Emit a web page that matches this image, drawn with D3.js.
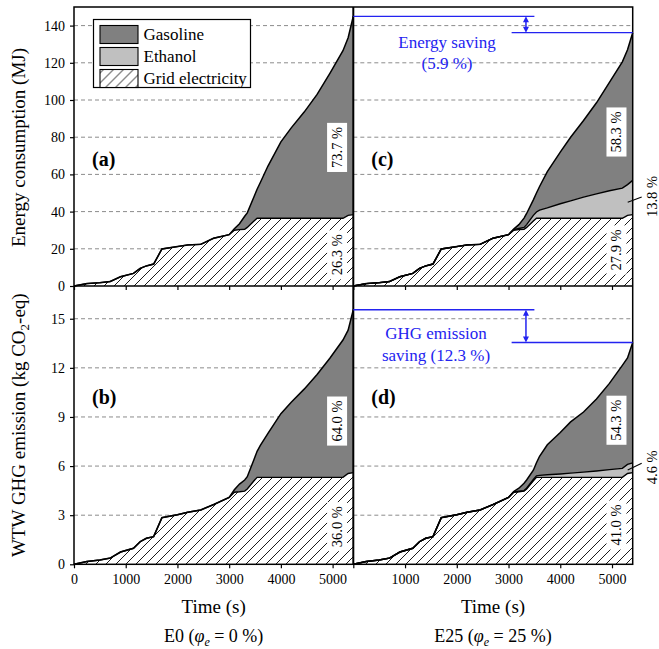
<!DOCTYPE html>
<html><head><meta charset="utf-8">
<script src="https://cdn.jsdelivr.net/npm/d3@7"></script>
<style>body{margin:0;background:#fff}svg{display:block}</style>
</head><body><svg id="c" width="659" height="649" font-family="Liberation Serif"></svg>
<script>
// ---- data ----
const time = [0,250,500,700,900,1150,1280,1400,1540,1700,2000,2200,2450,2700,3000,3100,3200,3300,3350,3480,3540,3600,3750,4000,4200,4450,4700,4950,5200,5300,5400];
// Energy (MJ), cumulative tops
const elecMJ      = [0,1.3,1.8,2.4,5.0,6.8,9.5,10.8,11.8,19.9,21.2,22.1,22.4,25.7,27.6,30.0,30.3,30.5,31.5,35.0,36.4,36.4,36.4,36.4,36.4,36.4,36.4,36.4,36.4,38.0,38.4];
const totalMJ_E0  = [0,1.3,1.8,2.4,5.0,6.8,9.5,10.8,11.8,19.9,21.2,22.1,22.4,25.7,27.6,30.8,33.5,37.5,39.3,48.0,52.0,55.5,64.5,77.5,85.0,93.5,103.0,114.5,126.5,133.5,145.0];
const ethTopMJ_E25= [0,1.3,1.8,2.4,5.0,6.8,9.5,10.8,11.8,19.9,21.2,22.1,22.4,25.7,27.6,30.3,30.9,31.5,33.0,38.0,39.8,40.8,42.0,44.2,45.8,47.8,49.5,51.2,52.6,54.5,56.8];
const totalMJ_E25 = [0,1.3,1.8,2.4,5.0,6.8,9.5,10.8,11.8,19.9,21.2,22.1,22.4,25.7,27.6,30.6,33.0,36.5,39.0,46.3,50.0,53.5,61.5,72.0,80.0,89.0,98.5,109.5,120.5,127.0,136.2];
// WTW GHG emission (kg CO2-eq), cumulative tops
const elecKg      = [0,0.17,0.26,0.38,0.75,0.98,1.38,1.59,1.69,2.85,3.03,3.18,3.32,3.65,4.08,4.40,4.43,4.47,4.60,5.10,5.31,5.31,5.31,5.31,5.31,5.31,5.31,5.31,5.31,5.55,5.60];
const totalKg_E0  = [0,0.17,0.26,0.38,0.75,0.98,1.38,1.59,1.69,2.85,3.03,3.18,3.32,3.65,4.08,4.55,4.90,5.15,5.35,6.40,6.90,7.25,8.00,9.20,9.90,10.70,11.60,12.60,13.70,14.30,15.55];
const ethTopKg_E25= [0,0.17,0.26,0.38,0.75,0.98,1.38,1.59,1.69,2.85,3.03,3.18,3.32,3.65,4.08,4.42,4.46,4.50,4.65,5.18,5.40,5.43,5.47,5.52,5.57,5.63,5.70,5.78,5.86,6.10,6.20];
const totalKg_E25 = [0,0.17,0.26,0.38,0.75,0.98,1.38,1.59,1.69,2.85,3.03,3.18,3.32,3.65,4.08,4.45,4.65,4.95,5.15,5.75,6.20,6.60,7.30,8.05,8.70,9.30,10.10,11.05,12.15,12.60,13.55];

const energyTicks = [0,20,40,60,80,100,120,140];
const ghgTicks = [0,3,6,9,12,15];
const timeTicks = [0,1000,2000,3000,4000,5000];
const legendLabels = ["Gasoline","Ethanol","Grid electricity"];
const pctE0 = {energy:["73.7 %","26.3 %"], ghg:["64.0 %","36.0 %"]};
const pctE25 = {energy:["58.3 %","13.8 %","27.9 %"], ghg:["54.3 %","4.6 %","41.0 %"]};
const savingEnergy = ["Energy saving","(5.9 %)"];
const savingGhg = ["GHG emission","saving (12.3 %)"];

// ---- layout ----
const FONT = '"Liberation Serif","Times New Roman",serif';
const svg = d3.select("#c");
const L=74, M=353.3, R=632.7, T=7, H=286, B=564.3;
const xL = d3.scaleLinear().domain([0,5400]).range([L,M]);
const xR = d3.scaleLinear().domain([0,5400]).range([M,R]);
const yE = d3.scaleLinear().domain([0,150]).range([H,T]);
const yG = d3.scaleLinear().domain([0,17]).range([B,H]);
const GAS="#808080", ETH="#c0c0c0", BLUE="#2323f0";

const defs = svg.append("defs");
const pat = defs.append("pattern").attr("id","hatch").attr("patternUnits","userSpaceOnUse")
  .attr("width",10).attr("height",10);
pat.append("rect").attr("width",10).attr("height",10).attr("fill","#fff");
pat.append("path").attr("d","M-1,11 L11,-1 M-3,3 L3,-3 M7,13 L13,7").attr("stroke","#000").attr("stroke-width",0.9);

const panels = [
  {x:xL, y:yE, elec:elecMJ, eth:elecMJ, tot:totalMJ_E0, ticks:energyTicks, lab:"(a)", labV:64.5, e25:false, xlabels:false, ylabels:true},
  {x:xR, y:yE, elec:elecMJ, eth:ethTopMJ_E25, tot:totalMJ_E25, ticks:energyTicks, lab:"(c)", labV:64.5, e25:true, xlabels:false, ylabels:false},
  {x:xL, y:yG, elec:elecKg, eth:elecKg, tot:totalKg_E0, ticks:ghgTicks, lab:"(b)", labV:9.8, e25:false, xlabels:true, ylabels:true},
  {x:xR, y:yG, elec:elecKg, eth:ethTopKg_E25, tot:totalKg_E25, ticks:ghgTicks, lab:"(d)", labV:9.8, e25:true, xlabels:true, ylabels:false},
];

panels.forEach(p=>{
  const g = svg.append("g");
  const [x0,x1] = p.x.range();
  g.selectAll(".grid").data(p.ticks.filter(d=>d>0)).enter().append("line")
    .attr("x1",x0).attr("x2",x1).attr("y1",d=>p.y(d)).attr("y2",d=>p.y(d))
    .attr("stroke","#8c8c8c").attr("stroke-width",1).attr("stroke-dasharray","4,3");
  const idx = d3.range(time.length);
  const area = (lo,hi)=>d3.area().x(i=>p.x(time[i])).y0(i=>p.y(lo[i])).y1(i=>p.y(hi[i]));
  const line = (arr)=>d3.line().x(i=>p.x(time[i])).y(i=>p.y(arr[i]));
  g.append("path").attr("d",area(p.eth,p.tot)(idx)).attr("fill",GAS);
  if(p.e25) g.append("path").attr("d",area(p.elec,p.eth)(idx)).attr("fill",ETH);
  g.append("path").attr("d",area(time.map(()=>0),p.elec)(idx)).attr("fill","url(#hatch)");
  g.append("path").attr("d",line(p.tot)(idx)).attr("fill","none").attr("stroke","#000").attr("stroke-width",1.5);
  if(p.e25) g.append("path").attr("d",line(p.eth)(idx)).attr("fill","none").attr("stroke","#000").attr("stroke-width",1.4);
  g.append("path").attr("d",line(p.elec)(idx)).attr("fill","none").attr("stroke","#000").attr("stroke-width",1.4);
  if(p.ylabels){
    const ax = d3.axisLeft(p.y).tickValues(p.ticks).tickSize(4).tickPadding(5);
    const ag = svg.append("g").attr("transform",`translate(${L},0)`).call(ax);
    ag.select(".domain").remove();
    ag.selectAll("line").attr("stroke-width",1.2);
    ag.selectAll("text").style("font-size","14px");
  }
  const yb = p.y.range()[0];
  const axx = d3.axisBottom(p.x).tickValues(timeTicks).tickSize(4).tickPadding(6)
      .tickFormat(d=> (p.xlabels && !(p.e25 && d===0)) ? d : "");
  const xg = svg.append("g").attr("transform",`translate(0,${yb})`).call(axx);
  xg.select(".domain").remove();
  xg.selectAll("line").attr("stroke-width",1.2);
  xg.selectAll("text").style("font-size","14px");
  svg.append("text").attr("x",x0+18).attr("y",p.y(p.labV))
    .style("font-size","20px").style("font-weight","bold").text(p.lab);
});

const fr = svg.append("g").attr("stroke","#000").attr("fill","none");
fr.append("rect").attr("x",L).attr("y",T).attr("width",R-L).attr("height",B-T).attr("stroke-width",1.5);
fr.append("line").attr("x1",L).attr("x2",R).attr("y1",H).attr("y2",H).attr("stroke-width",1.6);
fr.append("line").attr("x1",M).attr("x2",M).attr("y1",T).attr("y2",B).attr("stroke-width",2);

function boxLabel(x,y,txt){
  const g = svg.append("g").attr("transform",`translate(${x},${y}) rotate(-90)`);
  const t = g.append("text").attr("text-anchor","middle").attr("dy","0.35em").style("font-family",FONT).style("font-size","14.5px").text(txt);
  const bb = t.node().getBBox();
  g.insert("rect","text").attr("x",bb.x-4).attr("y",bb.y-2).attr("width",bb.width+8).attr("height",bb.height+4).attr("fill","#fff");
}
const tl = 5085;
boxLabel(xL(tl), yE(74.5), pctE0.energy[0]);
boxLabel(xL(tl), yE(16.8), pctE0.energy[1]);
boxLabel(xR(tl), yE(82.8), pctE25.energy[0]);
boxLabel(xR(tl), yE(19.4), pctE25.energy[2]);
boxLabel(xL(tl), yG(8.75), pctE0.ghg[0]);
boxLabel(xL(tl), yG(2.3), pctE0.ghg[1]);
boxLabel(xR(tl), yG(8.8), pctE25.ghg[0]);
boxLabel(xR(tl), yG(2.4), pctE25.ghg[2]);

function outLabel(yScale, vText, vFrom, vTo, txt){
  svg.append("line").attr("x1",R-5).attr("y1",yScale(vFrom)).attr("x2",R+9).attr("y2",yScale(vTo))
    .attr("stroke","#000").attr("stroke-width",1.1);
  svg.append("text").attr("transform",`translate(${R+19},${yScale(vText)}) rotate(-90)`)
    .attr("text-anchor","middle").attr("dy","0.35em").style("font-size","14.5px").text(txt);
}
outLabel(yE, 48.1, 45.0, 47.9, pctE25.energy[1]);
outLabel(yG, 5.93, 5.76, 6.17, pctE25.ghg[1]);

function saving(yScale, vTop, vBot, lines, cx, baseY){
  const ax = xR(3337);
  svg.append("line").attr("x1",M).attr("x2",xR(3500)).attr("y1",yScale(vTop)).attr("y2",yScale(vTop)).attr("stroke",BLUE).attr("stroke-width",1.3);
  svg.append("line").attr("x1",xR(3060)).attr("x2",R).attr("y1",yScale(vBot)).attr("y2",yScale(vBot)).attr("stroke",BLUE).attr("stroke-width",1.3);
  const y1 = yScale(vTop), y2 = yScale(vBot);
  svg.append("line").attr("x1",ax).attr("x2",ax).attr("y1",y1+3).attr("y2",y2-3).attr("stroke",BLUE).attr("stroke-width",1.5);
  svg.append("path").attr("d",`M${ax},${y1} L${ax-3},${y1+6} L${ax+3},${y1+6} Z M${ax},${y2} L${ax-3},${y2-6} L${ax+3},${y2-6} Z`).attr("fill",BLUE);
  lines.forEach((s,i)=>{
    svg.append("text").attr("x",cx).attr("y",baseY+i*21.5).attr("text-anchor","middle")
      .style("font-size","17px").style("fill",BLUE).text(s);
  });
}
saving(yE, totalMJ_E0[totalMJ_E0.length-1], totalMJ_E25[totalMJ_E25.length-1], savingEnergy, 447, 47.5);
saving(yG, totalKg_E0[totalKg_E0.length-1], totalKg_E25[totalKg_E25.length-1], savingGhg, 436, 339);

const lg = svg.append("g").attr("transform","translate(93.5,19.5)");
lg.append("rect").attr("width",157).attr("height",68).attr("fill","#fff").attr("stroke","#000").attr("stroke-width",1.2);
const fills = [GAS, ETH, "url(#hatch)"];
legendLabels.forEach((s,i)=>{
  lg.append("rect").attr("x",6.5).attr("y",6+i*22).attr("width",38).attr("height",18)
    .attr("fill",fills[i]).attr("stroke","#000").attr("stroke-width",1.1);
  lg.append("text").attr("x",50).attr("y",20.5+i*22).style("font-size","17px").text(s);
});

svg.append("text").attr("transform",`translate(25,${(T+H)/2+1}) rotate(-90)`).attr("text-anchor","middle")
  .style("font-size","19px").text("Energy consumption (MJ)");
const gt = svg.append("text").attr("transform",`translate(25,${(H+B)/2}) rotate(-90)`).attr("text-anchor","middle")
  .style("font-size","19px");
gt.append("tspan").text("WTW GHG emission (kg CO");
gt.append("tspan").attr("dy",4).style("font-size","13px").text("2");
gt.append("tspan").attr("dy",-4).text("-eq)");

[[ (L+M)/2, "E0 (", "0 %)"], [(M+R)/2, "E25 (", "25 %)"]].forEach(([cx,a,b])=>{
  svg.append("text").attr("x",cx).attr("y",613).attr("text-anchor","middle").style("font-size","19px").text("Time (s)");
  const t = svg.append("text").attr("x",cx).attr("y",642).attr("text-anchor","middle").style("font-size","18px");
  t.append("tspan").text(a);
  t.append("tspan").style("font-style","italic").text("φ");
  t.append("tspan").attr("dy",4).style("font-style","italic").style("font-size","12px").text("e");
  t.append("tspan").attr("dy",-4).text(" = " + b);
});

// apply serif font everywhere
svg.selectAll("text").style("font-family",FONT).attr("fill",function(){ return d3.select(this).style("fill")==="rgb(35, 35, 240)" ? BLUE : "#000"; });
svg.selectAll("g.tick text").attr("fill","#000");
</script></body></html>
